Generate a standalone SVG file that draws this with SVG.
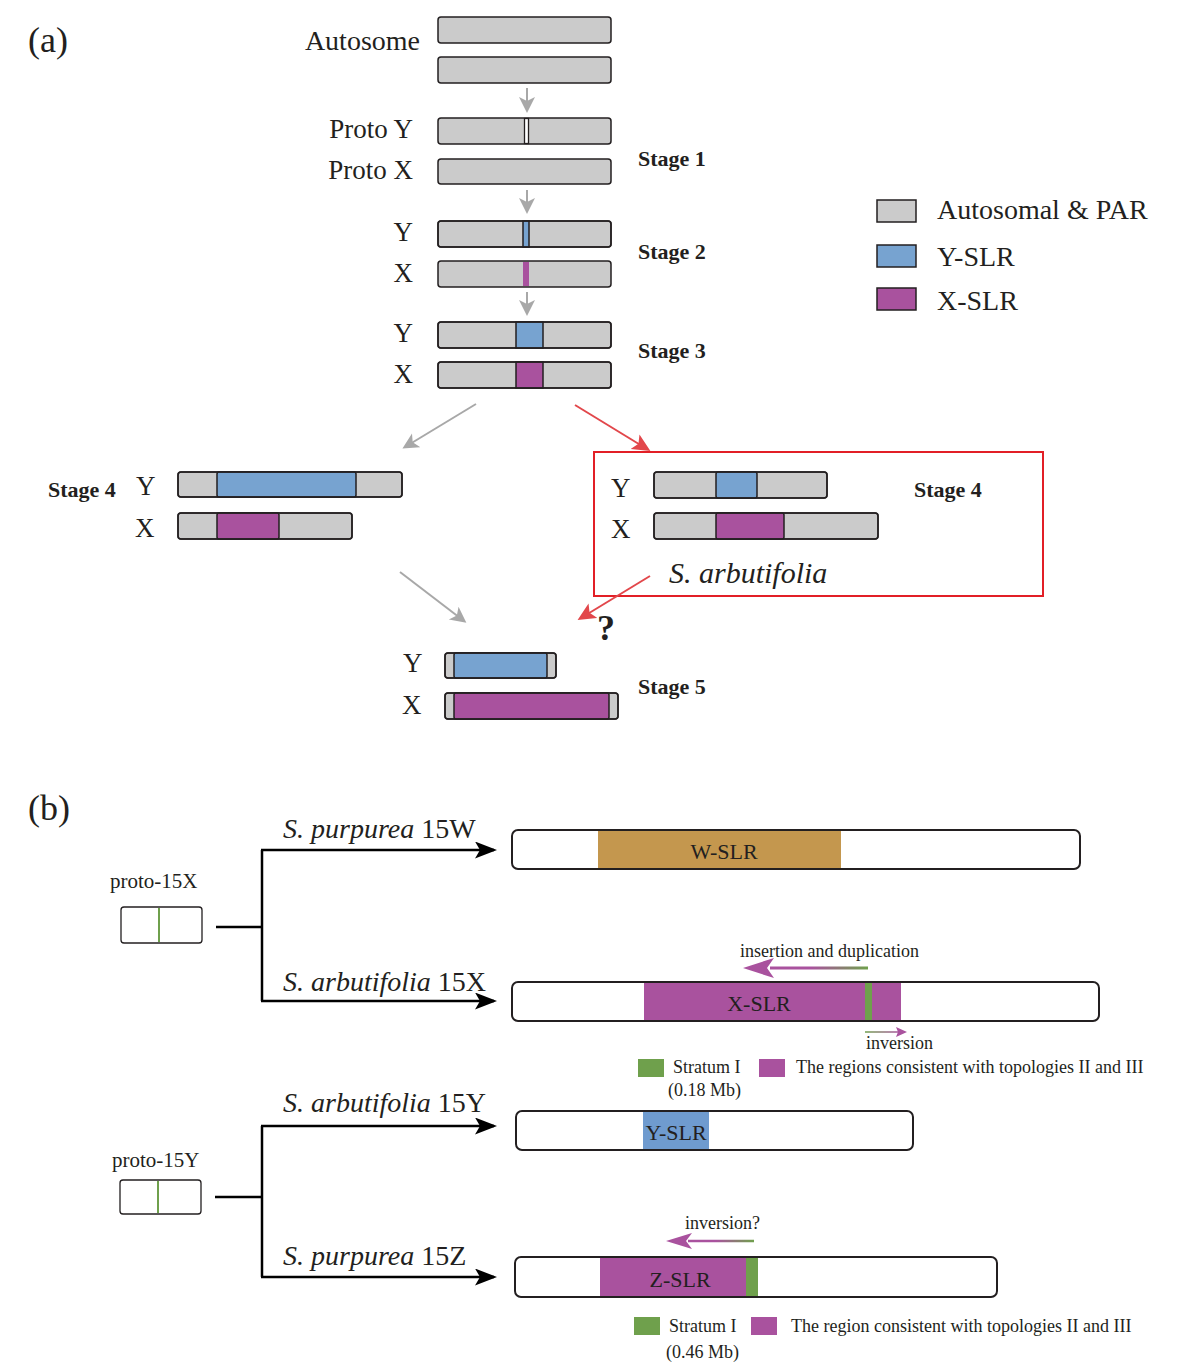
<svg xmlns="http://www.w3.org/2000/svg" width="1200" height="1367" viewBox="0 0 1200 1367">
<style>
text{font-family:"Liberation Serif","Times New Roman",serif;fill:#231F20}
.lbl{font-size:27px}
.stg{font-size:22px;font-weight:bold}
.big{font-size:36px}
.leg{font-size:28px}
.sp{font-size:28px}
.sm{font-size:18px}
.slr{font-size:22px}
.chr{fill:#CBCBCB;stroke:#231F20;stroke-width:1.5}
.out{fill:none;stroke:#231F20;stroke-width:1.5}
.blue{fill:#77A3D0}
.mag{fill:#A9529E}
.bord{stroke:#231F20;stroke-width:1.5}
.bbar{fill:#fff;stroke:#231F20;stroke-width:2}
.garr{stroke:#A8A8A8;stroke-width:2;fill:none}
.rarr{stroke:#E2474B;stroke-width:2;fill:none}
.karr{stroke:#000;stroke-width:2.5;fill:none}
.box{fill:none;stroke:#E21F26;stroke-width:2}
</style>
<defs>
<marker id="mg" markerUnits="userSpaceOnUse" markerWidth="18" markerHeight="18" refX="13" refY="8" orient="auto">
<path d="M0,0 L16,8 L0,16 L4,8 Z" fill="#A8A8A8"/>
</marker>
<marker id="mr" markerUnits="userSpaceOnUse" markerWidth="20" markerHeight="20" refX="14" refY="8.5" orient="auto">
<path d="M0,0 L18,8.5 L0,17 L4,8.5 Z" fill="#E2474B"/>
</marker>
<marker id="mk" markerUnits="userSpaceOnUse" markerWidth="26" markerHeight="20" refX="19" refY="8.5" orient="auto">
<path d="M0,0 L22,8.5 L0,17 L5,8.5 Z" fill="#000"/>
</marker>
<linearGradient id="g1" gradientUnits="userSpaceOnUse" x1="868" y1="0" x2="772" y2="0">
<stop offset="0" stop-color="#6FA04C"/><stop offset="0.6" stop-color="#A9529E"/>
</linearGradient>
<linearGradient id="g2" gradientUnits="userSpaceOnUse" x1="865" y1="0" x2="900" y2="0">
<stop offset="0" stop-color="#6FA04C"/><stop offset="1" stop-color="#A9529E"/>
</linearGradient>
<linearGradient id="g3" gradientUnits="userSpaceOnUse" x1="754" y1="0" x2="690" y2="0">
<stop offset="0" stop-color="#6FA04C"/><stop offset="0.6" stop-color="#A9529E"/>
</linearGradient>
</defs>
<rect width="1200" height="1367" fill="#fff"/>

<!-- Panel (a) -->
<text class="big" x="28" y="52">(a)</text>

<g id="autosome">
<text class="lbl" x="420" y="50" text-anchor="end" style="font-size:28px">Autosome</text>
<rect class="chr" x="438" y="17" width="173" height="26" rx="3"/>
<rect class="chr" x="438" y="57" width="173" height="26" rx="3"/>
</g>

<g id="stage1">
<text class="lbl" x="413" y="138" text-anchor="end">Proto Y</text>
<text class="lbl" x="413" y="179" text-anchor="end">Proto X</text>
<rect class="chr" x="438" y="118" width="173" height="26" rx="3"/>
<rect x="524.5" y="118.5" width="4" height="25" fill="#fff" stroke="#231F20" stroke-width="1.3"/>
<rect class="chr" x="438" y="159" width="173" height="25" rx="3"/>
<text class="stg" x="638" y="166">Stage 1</text>
</g>

<g id="stage2">
<text class="lbl" x="413" y="241" text-anchor="end">Y</text>
<text class="lbl" x="413" y="282" text-anchor="end">X</text>
<rect class="chr" x="438" y="221" width="173" height="26" rx="3"/>
<rect class="blue bord" x="523" y="221" width="6" height="26"/>
<rect class="out" x="438" y="221" width="173" height="26" rx="3"/>
<rect class="chr" x="438" y="261" width="173" height="26" rx="3"/>
<rect class="mag" x="523" y="262" width="6" height="24"/>
<text class="stg" x="638" y="259">Stage 2</text>
</g>

<g id="stage3">
<text class="lbl" x="413" y="342" text-anchor="end">Y</text>
<text class="lbl" x="413" y="383" text-anchor="end">X</text>
<rect class="chr" x="438" y="322" width="173" height="26" rx="3"/>
<rect class="blue bord" x="516" y="322" width="27" height="26"/>
<rect class="out" x="438" y="322" width="173" height="26" rx="3"/>
<rect class="chr" x="438" y="362" width="173" height="26" rx="3"/>
<rect class="mag bord" x="516" y="362" width="27" height="26"/>
<rect class="out" x="438" y="362" width="173" height="26" rx="3"/>
<text class="stg" x="638" y="358">Stage 3</text>
</g>

<g id="legend-a">
<rect class="chr" x="877" y="200" width="39" height="22"/>
<text class="leg" x="937" y="219">Autosomal &amp; PAR</text>
<rect class="blue bord" x="877" y="245" width="39" height="22"/>
<text class="leg" x="937" y="266">Y-SLR</text>
<rect class="mag bord" x="877" y="288" width="39" height="22"/>
<text class="leg" x="937" y="310">X-SLR</text>
</g>

<g id="stage4-left">
<text class="stg" x="48" y="497">Stage 4</text>
<text class="lbl" x="136" y="495">Y</text>
<text class="lbl" x="135" y="537">X</text>
<rect class="chr" x="178" y="472" width="224" height="25" rx="3"/>
<rect class="blue bord" x="217" y="472" width="139" height="25" rx="2"/>
<rect class="out" x="178" y="472" width="224" height="25" rx="3"/>
<rect class="chr" x="178" y="513" width="174" height="26" rx="3"/>
<rect class="mag bord" x="217" y="513" width="62" height="26" rx="2"/>
<rect class="out" x="178" y="513" width="174" height="26" rx="3"/>
</g>

<g id="stage4-right">
<rect class="box" x="594" y="452" width="449" height="144"/>
<text class="lbl" x="611" y="497">Y</text>
<text class="lbl" x="611" y="538">X</text>
<rect class="chr" x="654" y="472" width="173" height="26" rx="3"/>
<rect class="blue bord" x="716" y="472" width="41" height="26" rx="2"/>
<rect class="out" x="654" y="472" width="173" height="26" rx="3"/>
<rect class="chr" x="654" y="513" width="224" height="26" rx="3"/>
<rect class="mag bord" x="716" y="513" width="68" height="26" rx="2"/>
<rect class="out" x="654" y="513" width="224" height="26" rx="3"/>
<text class="stg" x="914" y="497">Stage 4</text>
<text x="669" y="583" style="font-size:30px;font-style:italic">S. arbutifolia</text>
</g>

<g id="stage5">
<text class="lbl" x="403" y="672">Y</text>
<text class="lbl" x="402" y="714">X</text>
<rect class="chr" x="445" y="653" width="111" height="25" rx="3"/>
<rect class="blue bord" x="454" y="653" width="93" height="25" rx="2"/>
<rect class="out" x="445" y="653" width="111" height="25" rx="3"/>
<rect class="chr" x="445" y="693" width="173" height="26" rx="3"/>
<rect class="mag bord" x="454" y="693" width="155" height="26" rx="2"/>
<rect class="out" x="445" y="693" width="173" height="26" rx="3"/>
<text class="stg" x="638" y="694">Stage 5</text>
<text x="597" y="640" style="font-size:36px;font-weight:bold">?</text>
</g>

<g id="connectors-a">
<line class="garr" x1="527" y1="88" x2="527" y2="110" marker-end="url(#mg)"/>
<line class="garr" x1="527" y1="190" x2="527" y2="211" marker-end="url(#mg)"/>
<line class="garr" x1="527" y1="292" x2="527" y2="313" marker-end="url(#mg)"/>
<line class="garr" x1="476" y1="404" x2="405" y2="447" marker-end="url(#mg)"/>
<line class="rarr" x1="575" y1="405" x2="647" y2="449" marker-end="url(#mr)"/>
<line class="rarr" x1="650" y1="576" x2="581" y2="618" marker-end="url(#mr)"/>
<line class="garr" x1="400" y1="572" x2="464" y2="621" marker-end="url(#mg)"/>
</g>

<!-- Panel (b) -->
<text class="big" x="28" y="820">(b)</text>

<g id="proto-15X">
<text x="110" y="888" style="font-size:21px">proto-15X</text>
<rect x="121" y="907" width="81" height="36" rx="3" fill="#fff" stroke="#231F20" stroke-width="1.3"/>
<line x1="159" y1="908" x2="159" y2="942" stroke="#6FA04C" stroke-width="2"/>
</g>

<g id="purpurea-15W">
<text class="sp" x="283" y="838"><tspan font-style="italic">S. purpurea</tspan> 15W</text>
<rect class="bbar" x="512" y="830" width="568" height="39" rx="6"/>
<rect x="598" y="831" width="243" height="37" fill="#C4974E"/>
<text class="slr" x="724" y="859" text-anchor="middle">W-SLR</text>
</g>

<g id="arbutifolia-15X">
<text class="sp" x="283" y="991"><tspan font-style="italic">S. arbutifolia</tspan> 15X</text>
<rect class="bbar" x="512" y="982" width="587" height="39" rx="6"/>
<rect class="mag" x="644" y="983" width="257" height="37"/>
<rect x="865" y="983" width="7" height="37" fill="#6FA04C"/>
<text class="slr" x="759" y="1011" text-anchor="middle">X-SLR</text>
<text class="sm" x="740" y="957">insertion and duplication</text>
<line x1="770" y1="968" x2="868" y2="968" stroke="url(#g1)" stroke-width="3"/>
<path d="M743,968 L774,958 L767,968 L774,978 Z" fill="#A9529E"/>
<line x1="865" y1="1032" x2="899" y2="1032" stroke="url(#g2)" stroke-width="1.6"/>
<path d="M907,1032 L896,1027 L898,1032 L896,1037 Z" fill="#A9529E"/>
<text class="sm" x="866" y="1049">inversion</text>
</g>

<g id="legend-x">
<rect x="638" y="1059" width="26" height="18" fill="#6FA04C"/>
<text class="sm" x="673" y="1073">Stratum I</text>
<text class="sm" x="668" y="1096">(0.18 Mb)</text>
<rect class="mag" x="759" y="1059" width="26" height="18"/>
<text class="sm" x="796" y="1073">The regions consistent with topologies II and III</text>
</g>

<g id="proto-15Y">
<text x="112" y="1167" style="font-size:21px">proto-15Y</text>
<rect x="120" y="1180" width="81" height="34" rx="3" fill="#fff" stroke="#231F20" stroke-width="1.3"/>
<line x1="158" y1="1181" x2="158" y2="1213" stroke="#6FA04C" stroke-width="2"/>
</g>

<g id="arbutifolia-15Y">
<text class="sp" x="283" y="1112"><tspan font-style="italic">S. arbutifolia</tspan> 15Y</text>
<rect class="bbar" x="516" y="1111" width="397" height="39" rx="6"/>
<rect x="643" y="1112" width="66" height="37" fill="#6F9BCF"/>
<text class="slr" x="676" y="1140" text-anchor="middle">Y-SLR</text>
</g>

<g id="purpurea-15Z">
<text class="sp" x="283" y="1265"><tspan font-style="italic">S. purpurea</tspan> 15Z</text>
<rect class="bbar" x="515" y="1257" width="482" height="40" rx="6"/>
<rect class="mag" x="600" y="1258" width="146" height="38"/>
<rect x="746" y="1258" width="12" height="38" fill="#6FA04C"/>
<text class="slr" x="680" y="1287" text-anchor="middle">Z-SLR</text>
<text class="sm" x="685" y="1229">inversion?</text>
<line x1="688" y1="1241" x2="754" y2="1241" stroke="url(#g3)" stroke-width="2.5"/>
<path d="M666,1241 L692,1233 L686,1241 L692,1249 Z" fill="#A9529E"/>
</g>

<g id="legend-z">
<rect x="634" y="1317" width="26" height="18" fill="#6FA04C"/>
<text class="sm" x="669" y="1332">Stratum I</text>
<text class="sm" x="666" y="1358">(0.46 Mb)</text>
<rect class="mag" x="751" y="1317" width="26" height="18"/>
<text class="sm" x="791" y="1332">The region consistent with topologies II and III</text>
</g>

<g id="connectors-b">
<path class="karr" d="M216,927 H262"/>
<path class="karr" d="M262,850 V1001"/>
<line class="karr" x1="261" y1="850" x2="494" y2="850" marker-end="url(#mk)"/>
<line class="karr" x1="261" y1="1001" x2="494" y2="1001" marker-end="url(#mk)"/>
<path class="karr" d="M215,1197 H262"/>
<path class="karr" d="M262,1126 V1277"/>
<line class="karr" x1="261" y1="1126" x2="494" y2="1126" marker-end="url(#mk)"/>
<line class="karr" x1="261" y1="1277" x2="494" y2="1277" marker-end="url(#mk)"/>
</g>
</svg>
